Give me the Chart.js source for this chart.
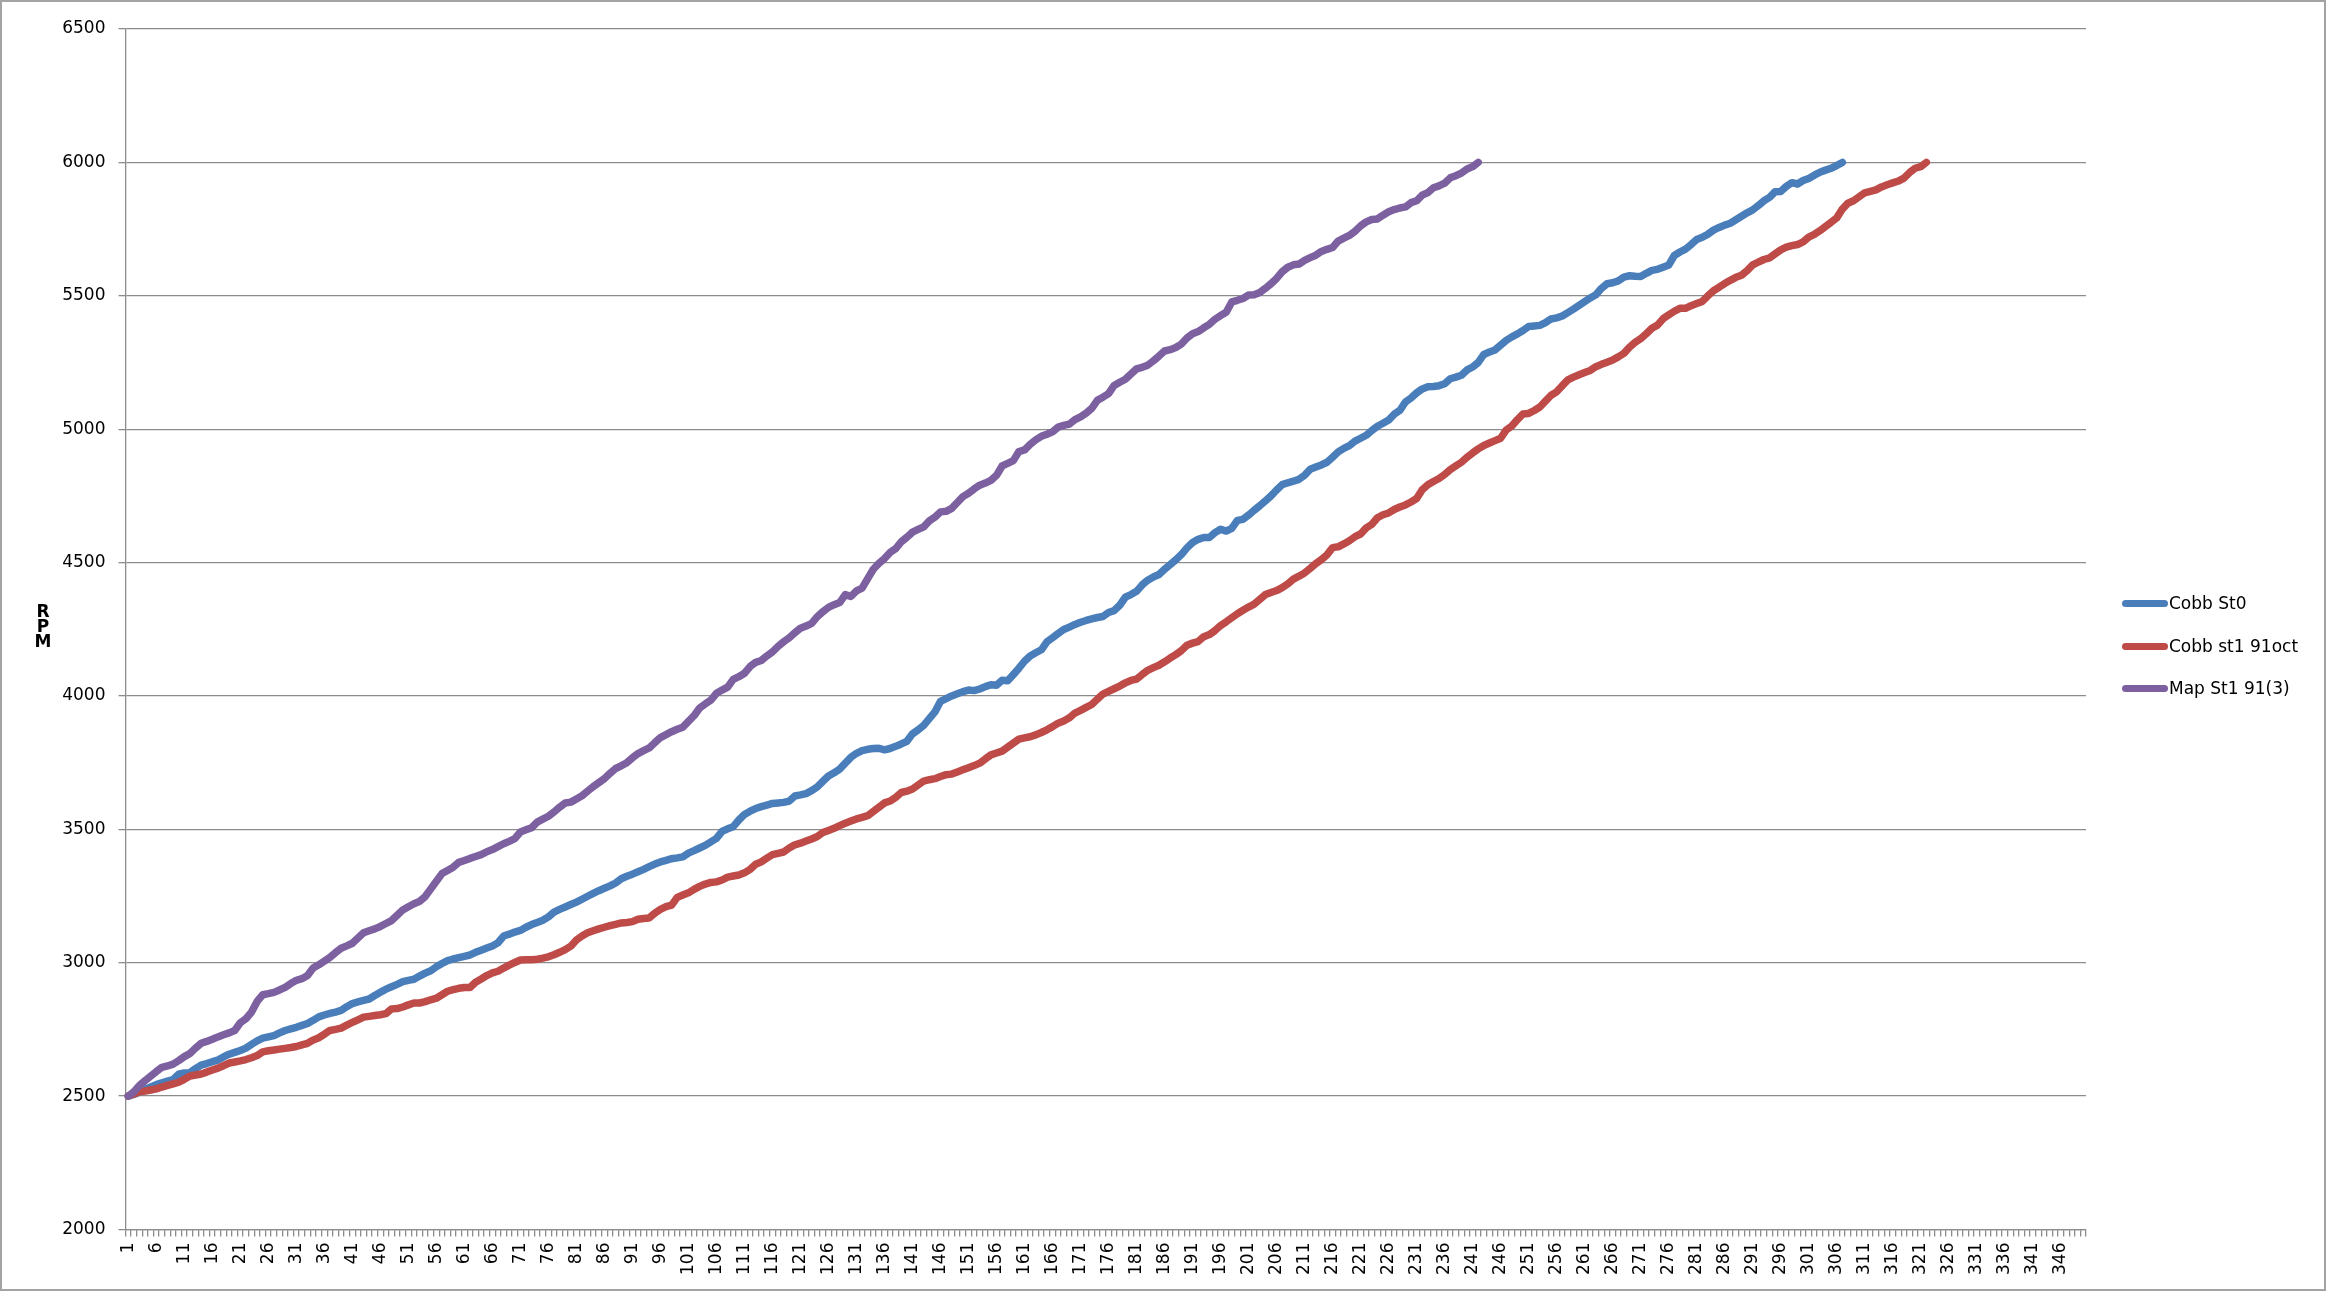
<!DOCTYPE html>
<html>
<head>
<meta charset="utf-8">
<script src="https://cdn.jsdelivr.net/npm/chart.js@4.4.1/dist/chart.umd.min.js"></script>
<style>
  html, body { margin: 0; padding: 0; background: #fff; }
  #wrap { position: relative; width: 2326px; height: 1291px; background: #fff; }
  #frame { position: absolute; left: 0; top: 0; right: 0; bottom: 0; border: 2px solid #a3a3a3; pointer-events: none; }
  #rpm-title { position: absolute; left: 32px; top: 604px; width: 22px; text-align: center;
    font: bold 17px "DejaVu Sans", sans-serif; line-height: 15px; color: #000; }
  .legend-item { position: absolute; left: 2122px; height: 20px; font: 17px "DejaVu Sans", sans-serif;
    line-height: 20px; color: #000; white-space: nowrap; }
  .legend-item .swatch { position: absolute; left: 0; top: 6.5px; width: 46px; height: 7px; border-radius: 3.5px; }
  .legend-item .name { position: absolute; left: 47px; top: 0; }
</style>
</head>
<body>
<div id="wrap">
  <canvas id="rpmChart"></canvas>
  <div id="rpm-title">R<br>P<br>M</div>
  <div id="legend"></div>
  <div id="frame"></div>
</div>
<script>
// sample number along the x axis
const samples = [];
for (let n = 1; n <= 350; n++) samples.push(String(n));

const yTicks = [2000, 2500, 3000, 3500, 4000, 4500, 5000, 5500, 6000, 6500];

const seriesNames = ["Cobb St0", "Cobb st1 91oct", "Map St1 91(3)"];
const seriesColors = ["#4a7ebb", "#be4b48", "#7d60a0"];

const cobbSt0 = [
  2500, 2506, 2515, 2526, 2534, 2543, 2550, 2556, 2562, 2582,
  2587, 2588, 2603, 2616, 2622, 2629, 2635, 2647, 2657, 2664,
  2671, 2680, 2694, 2707, 2717, 2722, 2727, 2737, 2746, 2752,
  2758, 2765, 2772, 2784, 2797, 2804, 2810, 2815, 2821, 2835,
  2847, 2853, 2859, 2864, 2877, 2889, 2901, 2910, 2919, 2929,
  2934, 2938, 2950, 2961, 2970, 2985, 2997, 3008, 3014, 3019,
  3024, 3029, 3039, 3047, 3055, 3063, 3075, 3100, 3107, 3115,
  3121, 3133, 3143, 3151, 3159, 3172, 3190, 3200, 3209, 3218,
  3227, 3238, 3249, 3260, 3270, 3279, 3288, 3299, 3315, 3324,
  3332, 3341, 3350, 3360, 3370, 3378, 3384, 3390, 3393, 3397,
  3411, 3420, 3430, 3440, 3453, 3466, 3492, 3502, 3510, 3535,
  3556, 3568, 3578, 3585, 3591, 3597, 3599, 3601, 3606, 3625,
  3629, 3634, 3645, 3659, 3680, 3700, 3712, 3726, 3748, 3770,
  3785, 3795, 3800, 3803, 3804, 3798, 3803, 3811, 3820, 3830,
  3858, 3873, 3890, 3915, 3940, 3980, 3990, 4000, 4008, 4016,
  4022, 4020, 4026, 4035, 4042, 4040, 4059, 4057, 4080, 4104,
  4130, 4150, 4162, 4173, 4203, 4218, 4234, 4249, 4258, 4268,
  4276, 4283, 4289, 4294, 4298, 4313, 4320, 4340, 4370, 4380,
  4392, 4416, 4434, 4446, 4455, 4475, 4492, 4510, 4530, 4555,
  4575, 4587, 4594, 4594, 4612, 4625, 4618, 4628, 4658, 4662,
  4678, 4696, 4713, 4731, 4750, 4772, 4792, 4799, 4805, 4812,
  4827, 4850, 4858, 4866, 4876, 4895, 4915, 4928, 4938, 4955,
  4966, 4977, 4995, 5011, 5022, 5034, 5056, 5070, 5102, 5117,
  5136, 5151, 5159, 5160, 5163, 5170, 5189, 5195, 5202, 5222,
  5233, 5250, 5280, 5289, 5297, 5315, 5333, 5346, 5357, 5370,
  5385, 5387, 5389, 5399, 5413, 5417, 5424, 5437, 5450, 5464,
  5478, 5492, 5504, 5528, 5545, 5549, 5556, 5570, 5575, 5573,
  5572, 5584, 5595, 5599, 5607, 5615, 5651, 5664, 5675, 5692,
  5711, 5719, 5731, 5746, 5756, 5765, 5772, 5785, 5798, 5811,
  5822, 5838, 5856, 5869, 5890, 5891, 5910, 5924, 5919, 5932,
  5940, 5952, 5963, 5971, 5978, 5988, 6000
];

const cobbSt1 = [
  2500, 2508, 2516, 2519, 2523, 2527, 2534, 2540, 2546, 2552,
  2563, 2575, 2579, 2583, 2590, 2598, 2605, 2614, 2624, 2628,
  2632, 2637, 2644, 2652, 2666, 2670, 2673, 2676, 2679, 2682,
  2686, 2692, 2698, 2710, 2719, 2732, 2746, 2750, 2755, 2766,
  2776, 2786, 2796, 2799, 2802, 2805, 2809, 2827, 2828, 2834,
  2842, 2849, 2849, 2854, 2861, 2867, 2880, 2893, 2899, 2904,
  2907, 2907, 2927, 2939, 2952, 2962, 2968, 2980, 2991, 3001,
  3010, 3011, 3011, 3013, 3017, 3022, 3030, 3039, 3049, 3062,
  3085, 3100, 3112, 3120, 3127, 3133, 3139, 3144, 3149, 3151,
  3154, 3163, 3166, 3168, 3186, 3200, 3210, 3216, 3245, 3254,
  3262, 3275, 3286, 3295, 3301, 3303, 3310, 3321, 3325, 3329,
  3337, 3350, 3369, 3378, 3392, 3405, 3410, 3415, 3430, 3442,
  3448, 3456, 3464, 3473, 3488, 3496, 3504, 3514, 3523, 3531,
  3539, 3545, 3551, 3567, 3583, 3599, 3606, 3620, 3638, 3643,
  3651, 3666, 3681, 3686, 3690, 3698, 3705, 3707, 3715, 3723,
  3731, 3739, 3748, 3764, 3779, 3786, 3793, 3808, 3823, 3838,
  3843, 3847, 3854, 3863, 3873, 3885, 3898, 3906, 3918, 3936,
  3946, 3957, 3968, 3988, 4007, 4017, 4027, 4037, 4049, 4058,
  4063, 4080, 4096, 4106, 4115, 4128, 4142, 4155, 4170, 4190,
  4198, 4204, 4222, 4230, 4245, 4264, 4278, 4293, 4308, 4321,
  4333, 4344, 4362, 4380, 4388, 4395, 4406, 4420, 4438, 4449,
  4461, 4478, 4496, 4511, 4529, 4556, 4559, 4570, 4582, 4597,
  4607, 4630, 4643, 4668, 4679, 4686, 4699, 4708, 4716, 4727,
  4740, 4773, 4792, 4804, 4815, 4830, 4848, 4862, 4876, 4895,
  4911, 4926, 4939, 4948, 4957, 4966, 4997, 5012, 5036, 5057,
  5059, 5070, 5083, 5105, 5127, 5140, 5163, 5185, 5195, 5204,
  5212, 5220, 5234, 5243, 5251, 5259, 5271, 5284, 5307, 5325,
  5339, 5358, 5378, 5390, 5414, 5428, 5442, 5453, 5453, 5463,
  5471, 5479, 5500, 5519, 5532, 5546, 5558, 5569, 5577, 5594,
  5616, 5626, 5636, 5642, 5657, 5672, 5682, 5688, 5692, 5702,
  5720, 5730, 5744, 5760, 5776, 5792, 5825, 5847, 5856, 5871,
  5886, 5891, 5897, 5908, 5916, 5923, 5930, 5941, 5962, 5978,
  5984, 6000
];

const mapSt1 = [
  2500, 2516, 2540, 2558, 2575, 2592, 2608, 2613, 2620, 2633,
  2648, 2660, 2680, 2698, 2705, 2713, 2722, 2730, 2737, 2746,
  2775, 2790, 2815, 2855, 2880, 2884, 2889, 2898, 2908, 2922,
  2934, 2940, 2952, 2980, 2992, 3006, 3020, 3038, 3054, 3063,
  3073, 3093, 3112, 3120, 3127, 3136, 3147, 3158, 3178, 3198,
  3210, 3221, 3230, 3248, 3277, 3305, 3334, 3346, 3358, 3376,
  3383, 3391, 3398, 3405, 3416, 3424, 3435, 3446, 3455, 3465,
  3490, 3498, 3506, 3527, 3538, 3549, 3565, 3583, 3599, 3602,
  3614, 3626, 3643, 3660, 3675, 3690, 3710, 3728, 3738, 3750,
  3768, 3784, 3795, 3805, 3825, 3844, 3855, 3866, 3875, 3883,
  3905, 3926, 3955, 3970, 3984, 4010, 4022, 4033, 4062, 4072,
  4085, 4110, 4126, 4133, 4150, 4165, 4186, 4203, 4218, 4237,
  4254, 4262, 4272, 4297, 4316, 4332, 4342, 4350, 4380, 4373,
  4394, 4404, 4440, 4475, 4497, 4515, 4538, 4552, 4578, 4595,
  4614, 4624, 4634, 4656, 4670, 4690, 4692, 4703, 4725, 4747,
  4760, 4776, 4790, 4798, 4808, 4827, 4862, 4872, 4882, 4916,
  4922, 4943, 4960, 4973, 4981, 4990, 5008, 5014, 5019, 5036,
  5046, 5060, 5078, 5108, 5120, 5133, 5164, 5176, 5187, 5207,
  5226, 5232, 5240, 5256, 5274, 5293, 5298, 5306, 5319, 5342,
  5358, 5366, 5380, 5393, 5412, 5426, 5438, 5477, 5483, 5490,
  5503, 5504, 5512, 5528, 5545, 5565, 5590, 5607, 5616, 5619,
  5633, 5643, 5652, 5666, 5674, 5681, 5705, 5716, 5726, 5742,
  5762, 5777, 5786, 5788, 5802, 5815, 5823, 5829, 5833, 5849,
  5856, 5877, 5887, 5905, 5912, 5922, 5942, 5950, 5960, 5975,
  5984, 6000
];

const seriesData = [cobbSt0, cobbSt1, mapSt1];
const axisGray = "#8c8c8c";

Chart.defaults.font.family = "'DejaVu Sans', sans-serif";
Chart.defaults.color = "#000";

const rpmChart = new Chart(document.getElementById("rpmChart").getContext("2d"), {
  type: "line",
  data: {
    labels: samples,
    datasets: seriesData.map((values, i) => ({
      label: seriesNames[i],
      data: values,
      borderColor: seriesColors[i],
      backgroundColor: seriesColors[i],
      borderWidth: 7.5,
      borderCapStyle: "round",
      borderJoinStyle: "round",
      pointRadius: 0,
      tension: 0,
      fill: false,
      order: seriesData.length - i, // later series on top, like the original
    }))
  },
  options: {
    responsive: true,
    maintainAspectRatio: false,
    animation: false,
    devicePixelRatio: 1,
    layout: { padding: { left: 25.5, right: 240, top: 29, bottom: 0 } },
    plugins: {
      legend: { display: false },
      tooltip: { enabled: false },
    },
    scales: {
      x: {
        offset: true,
        grid: { offset: true, drawOnChartArea: false, color: axisGray, lineWidth: 1.3, tickLength: 7 },
        border: { color: axisGray, width: 1.3 },
        ticks: {
          autoSkip: false,
          minRotation: 90,
          maxRotation: 90,
          padding: 6,
          font: { size: 17 },
          color: "#000",
          callback: (value, index) => (index % 5 === 0 ? samples[index] : ""),
        },
        afterFit: (axis) => { axis.height = 61.5; },
      },
      y: {
        min: yTicks[0],
        max: yTicks[yTicks.length - 1],
        grid: { color: axisGray, lineWidth: 1.3, tickLength: 7 },
        border: { color: axisGray, width: 1.3 },
        ticks: {
          stepSize: 500,
          padding: 13,
          font: { size: 17 },
          color: "#000",
          callback: (value) => (yTicks.includes(value) ? String(value) : ""),
        },
        afterFit: (axis) => { axis.width = 100; },
      },
    },
  },
});

// legend to the right of the plot, built from the same names and colours
const legendBox = document.getElementById("legend");
const legendTops = [593, 636, 678];
seriesNames.forEach((name, i) => {
  const item = document.createElement("div");
  item.className = "legend-item";
  item.style.top = legendTops[i] + "px";
  item.innerHTML = `<span class="swatch" style="background:${seriesColors[i]}"></span><span class="name">${name}</span>`;
  legendBox.appendChild(item);
});
</script>
</body>
</html>
